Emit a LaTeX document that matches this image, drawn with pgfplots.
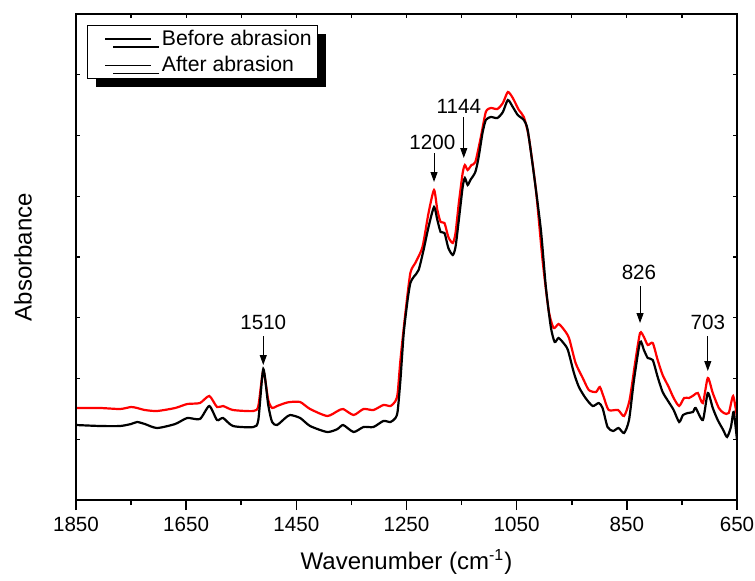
\documentclass[border=0pt]{standalone}
\usepackage{fontspec}
\setmainfont{Liberation Sans}
\usepackage{pgfplots}
\pgfplotsset{compat=1.18}
\usetikzlibrary{arrows.meta,shadows}

\pgfplotstableread{
wn y
1850 86
1806 85
1770 85
1750 87
1739 89
1725 87
1703 83
1670 87
1648 93
1625 92
1608 105
1594 91
1583 93
1565 85
1528 84
1519 91
1510 142
1501 106
1494 89
1485 86
1470 93
1461 96
1443 93
1425 85
1394 79
1375 82
1365 86
1346 79
1328 84
1310 84
1292 90
1279 89
1270 93
1266 100
1261 131
1255 178
1248 211
1243 228
1237 234
1228 241
1219 261
1210 284
1200 304
1194 291
1188 279
1181 278
1174 263
1166 256
1161 264
1155 291
1148 324
1144 333
1139 326
1134 331
1125 339
1119 354
1112 378
1106 391
1097 394
1085 393
1075 399
1066 411
1057 404
1048 396
1037 391
1030 381
1019 338
1006 281
997 224
988 184
981 169
974 173
965 168
957 161
946 138
937 124
925 113
912 105
901 108
894 103
885 84
875 80
865 83
855 78
846 91
837 131
826 169
819 161
812 153
803 151
794 134
785 119
774 109
765 101
755 89
748 96
739 98
730 99
725 103
712 91
703 118
694 103
685 91
675 81
668 74
661 84
656 99
650 71
}\before

\pgfplotstableread{
wn y
1850 103
1806 103
1770 102
1750 104
1739 103
1725 101
1703 100
1670 103
1648 107
1625 108
1608 115
1594 104
1583 105
1565 101
1528 100
1519 105
1510 140
1501 111
1494 103
1485 105
1470 108
1461 109
1443 109
1425 102
1394 95
1375 100
1365 102
1346 96
1328 102
1310 101
1292 106
1279 105
1270 110
1266 118
1261 151
1252 198
1243 238
1234 248
1221 264
1210 298
1200 321
1194 301
1188 289
1181 288
1174 274
1166 268
1161 278
1155 308
1148 338
1144 346
1139 341
1132 346
1125 349
1115 374
1106 399
1097 403
1085 402
1075 408
1066 419
1057 413
1046 401
1037 394
1028 374
1015 321
1003 251
992 201
983 183
974 187
965 182
955 173
943 148
930 133
919 121
906 119
899 124
892 114
883 101
866 101
855 95
845 111
835 148
826 178
819 174
812 166
803 168
794 151
785 136
774 124
765 113
755 105
746 113
737 113
728 116
721 118
712 108
703 133
694 118
683 103
674 98
665 98
657 115
650 94
}\after

\begin{document}
\begin{tikzpicture}
\begin{axis}[
  at={(0,0)}, anchor=south west,
  scale only axis, width=330.5pt, height=243pt,
  x dir=reverse, xmin=650, xmax=1850, ymin=11, ymax=497,
  xtick={650,850,1050,1250,1450,1650,1850},
  minor xtick={750,950,1150,1350,1550,1750},
  xtick pos=left, ytick=\empty, tick align=outside,
  major tick length=5pt, minor tick length=2.5pt,
  every tick/.style={black, line width=0.8pt},
  axis line style={line width=1pt},
  /pgf/number format/assume math mode=true,
  /pgf/number format/set thousands separator={},
  xticklabel style={font=\fontsize{10.3}{12}\selectfont},
  xlabel={Wavenumber (cm\textsuperscript{-1})},
  ylabel={Absorbance},
  label style={font=\fontsize{12}{14}\selectfont},
  xlabel style={at={(axis description cs:0.5,-0.1275)}, anchor=center},
  ylabel style={at={(axis description cs:-0.0802,0.5)}, anchor=center},
  legend style={at={(0.0166,0.977)}, anchor=north west, draw=black, line width=0.6pt,
    fill=white, inner xsep=1pt, inner ysep=0pt, row sep=0pt,
    font=\fontsize{10.6}{12}\selectfont,
    drop shadow={shadow xshift=4pt, shadow yshift=-4pt, fill=black, opacity=1}},
  legend cell align=left,
  legend image code/.code={\path (0pt,0pt); \path (33.5pt,0pt); \draw[#1] (7.5pt,0pt) -- (30.5pt,0pt);},
]
\addplot[red, line width=1.1pt, smooth, tension=0.4, forget plot] table[x=wn,y=y] {\after};
\addplot[black, line width=1.1pt, smooth, tension=0.4, forget plot] table[x=wn,y=y] {\before};
\addlegendimage{black, line width=0.7pt}
\addlegendentry{Before abrasion}
\addlegendimage{black, line width=0.7pt}
\addlegendentry{After abrasion}

\tikzset{ann/.style={font=\fontsize{10.3}{12}\selectfont, inner sep=0pt},
         arr/.style={-{Triangle[length=5pt,width=3.5pt]}, line width=0.5pt}}
\node[ann] at (axis cs:1510,189) {1510};
\draw[arr] (axis cs:1510,175) -- (axis cs:1510,146);
\node[ann] at (axis cs:1203,369) {1200};
\draw[arr] (axis cs:1200,358) -- (axis cs:1200,329);
\node[ann] at (axis cs:1155,405) {1144};
\draw[arr] (axis cs:1146,394) -- (axis cs:1146,353);
\node[ann] at (axis cs:828,239) {826};
\draw[arr] (axis cs:826,225) -- (axis cs:826,188);
\node[ann] at (axis cs:703,189) {703};
\draw[arr] (axis cs:703,175) -- (axis cs:703,140);
\end{axis}
\begin{axis}[
  at={(0,0)}, anchor=south west,
  scale only axis, width=330.5pt, height=243pt,
  x dir=reverse, xmin=650, xmax=1850, ymin=11, ymax=497,
  xtick={650,750,...,1850}, xtick pos=right, xticklabels={},
  ytick={71.75,132.5,193.25,254,314.75,375.5,436.25}, yticklabels={},
  tick align=inside, major tick length=2pt,
  every tick/.style={black, line width=0.6pt},
  axis line style={line width=1pt},
]
\end{axis}
\pgfresetboundingbox
\path[use as bounding box] (-38pt,-40pt) rectangle (339.5pt,250pt);
\end{tikzpicture}
\end{document}
